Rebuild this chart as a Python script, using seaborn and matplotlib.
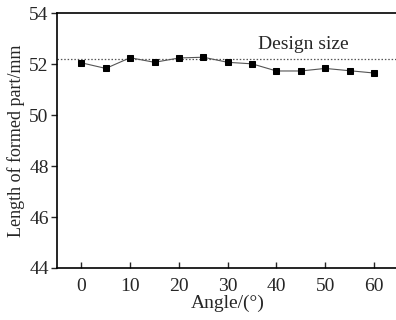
import matplotlib
matplotlib.use("Agg")
import matplotlib.pyplot as plt
import seaborn as sns
import pandas as pd

# ================== DADOS ==================
angle = [0, 5, 10, 15, 20, 25, 30, 35, 40, 45, 50, 55, 60]
length = [52.05, 51.83, 52.25, 52.07, 52.24, 52.27, 52.07, 52.01, 51.73, 51.73, 51.83, 51.74, 51.65]
design_size = 52.2
design_label = "Design size"
x_ticks = [0, 10, 20, 30, 40, 50, 60]
y_ticks = [44, 46, 48, 50, 52, 54]

df = pd.DataFrame({"angle": angle, "length": length})

# ================== CONFIG ==================
sns.set_style("ticks")
plt.rcParams["font.family"] = ["Liberation Serif", "DejaVu Serif"]

fig = plt.figure(figsize=(3.96, 3.2), dpi=100)
ax = fig.add_axes([0.144, 0.1625, 0.862, 0.7965])

ax.axhline(design_size, color="#555555", linestyle=(0, (1.2, 1.5)), linewidth=0.9)
sns.lineplot(data=df, x="angle", y="length", ax=ax, color="#555555", linewidth=0.8,
             marker="s", markersize=4.5, markerfacecolor="black", markeredgecolor="black")
ax.text(45.5, 52.42, design_label, ha="center", va="bottom", fontsize=14)

ax.set_xlim(-5, 65)
ax.set_ylim(44, 54)
ax.set_xticks(x_ticks)
ax.set_yticks(y_ticks)
ax.tick_params(axis="x", direction="in", length=4, labelsize=14, pad=7, width=1)
ax.tick_params(axis="y", direction="out", length=4, labelsize=14, width=1, pad=2)
ax.set_xlabel("Angle/(°)", fontsize=14, labelpad=0)
ax.set_ylabel("Length of formed part/mm", fontsize=13, labelpad=3)
for s in ax.spines.values():
    s.set_linewidth(1.2)
    s.set_color("black")
ax.spines["right"].set_visible(False)

fig.savefig("out.png", dpi=100)
